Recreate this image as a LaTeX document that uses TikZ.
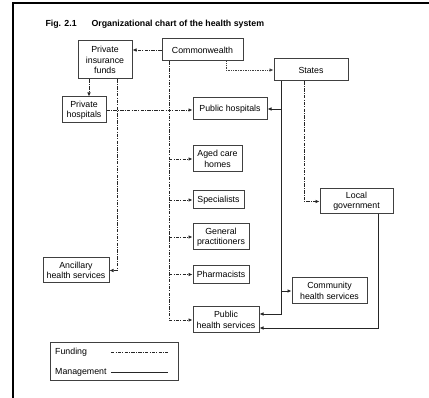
\documentclass[tikz,border=0pt]{standalone}
\usepackage{fontspec}
\setmainfont{Liberation Sans}
\usetikzlibrary{arrows.meta}

\begin{document}
\begin{tikzpicture}[x=1pt,y=-1pt,
    box/.style={draw=black!75,line width=1pt,inner sep=1pt,align=center,
      font=\fontsize{8.8}{10.4}\selectfont},
    fund/.style={black!85,line width=0.8pt,dash pattern=on 3.4pt off 1.2pt on 1pt off 1.2pt},
    fine/.style={black!75,line width=0.7pt,dash pattern=on 1pt off 0.7pt},
    manage/.style={black!85,line width=0.8pt},
    tip/.style={-{Latex[length=4pt,width=3.6pt]}}]
      \useasboundingbox (0,0) rectangle (429,398);
      \draw[line width=1.3pt] (13,398) -- (13,3) -- (429,3);
      % title
      \node[anchor=west,font=\bfseries\fontsize{8.8}{10}\selectfont] (fig) at (42,24) {Fig. 2.1};
      \node[anchor=west,font=\bfseries\fontsize{8.8}{10}\selectfont] (title) at (88,24) {Organizational chart of the health system};
      % boxes
      \node[box,minimum width=54,minimum height=38] (pif) at (105,60) {Private\\insurance\\funds};
      \node[box,minimum width=81,minimum height=22] (cw) at (202.5,50) {Commonwealth};
      \node[box,minimum width=74,minimum height=22] (states) at (311,70) {States};
      \node[box,minimum width=44,minimum height=26] (ph) at (84,110) {Private\\hospitals};
      \node[box,minimum width=74,minimum height=22] (pubh) at (230,109) {Public hospitals};
      \node[box,minimum width=49,minimum height=26] (aged) at (217.5,159) {Aged care\\homes};
      \node[box,minimum width=51,minimum height=18] (spec) at (218.5,200) {Specialists};
      \node[box,minimum width=56,minimum height=26] (gp) at (221,237) {General\\practitioners};
      \node[box,minimum width=56,minimum height=18] (pharm) at (221,274.5) {Pharmacists};
      \node[box,minimum width=73,minimum height=25] (lg) at (356.5,201.5) {Local\\government};
      \node[box,minimum width=75,minimum height=26] (chs) at (329.5,291) {Community\\health services};
      \node[box,minimum width=66,minimum height=26] (phs) at (226,320) {Public\\health services};
      \node[box,minimum width=66,minimum height=25] (anc) at (76,270.5) {Ancillary\\health services};
      % branch points
      \coordinate (pifA) at ([xshift=-16pt]pif.south);
      \coordinate (pifB) at ([xshift=12pt]pif.south);
      \coordinate (cwA) at ([xshift=-33.5pt]cw.south);
      \coordinate (cwB) at ([xshift=23.5pt]cw.south);
      \coordinate (stA) at ([xshift=-30pt]states.south);
      \coordinate (stB) at ([xshift=-7pt]states.south);
      \coordinate (lgA) at ([xshift=21.5pt]lg.south);
      \coordinate (phsA) at ([yshift=6pt]phs.east);
      \coordinate (phsB) at ([yshift=-8pt]phs.east);
      % funding
      \draw[fund,tip] (cw.west) -- (cw.west -| pif.east);
      \draw[fund,tip] (pifA) -- (pifA |- ph.north);
      \draw[fund,tip] (pifB) |- (anc.east);
      \draw[fund,tip] (ph.east) -- (ph.east -| pubh.west);
      \draw[fund,tip] (cwA) |- (phs.west);
      \foreach \n in {aged,spec,gp,pharm} {%
        \draw[fund,tip] (cwA |- \n.west) -- (\n.west);
      }
      \draw[fund,tip] (stB) |- (lg.west);
      \draw[fine,tip] (cwB) |- (states.west);
      % management
      \draw[manage,tip] (stA) |- (phsA);
      \draw[manage,tip] (stA |- pubh.east) -- (pubh.east);
      \draw[manage,tip] (stA |- chs.west) -- (chs.west);
      \draw[manage,tip] (lgA) |- (phsB);
      % legend
      \node[draw=black!75,line width=1pt,minimum width=128,minimum height=38] (legend) at (114,362) {};
      \node[anchor=west,font=\fontsize{8.8}{10.4}\selectfont,inner sep=1pt] (lfund) at (54,352) {Funding};
      \node[anchor=west,font=\fontsize{8.8}{10.4}\selectfont,inner sep=1pt] (lman) at (54,372) {Management};
      \coordinate (lfundA) at (111,352);
      \coordinate (lmanA) at ([xshift=3pt]lman.east);
      \draw[fund] (lfundA) -- ([xshift=-11pt]lfundA -| legend.east);
      \draw[manage] (lmanA) -- ([xshift=-11pt]lmanA -| legend.east);
    \end{tikzpicture}
\end{document}
